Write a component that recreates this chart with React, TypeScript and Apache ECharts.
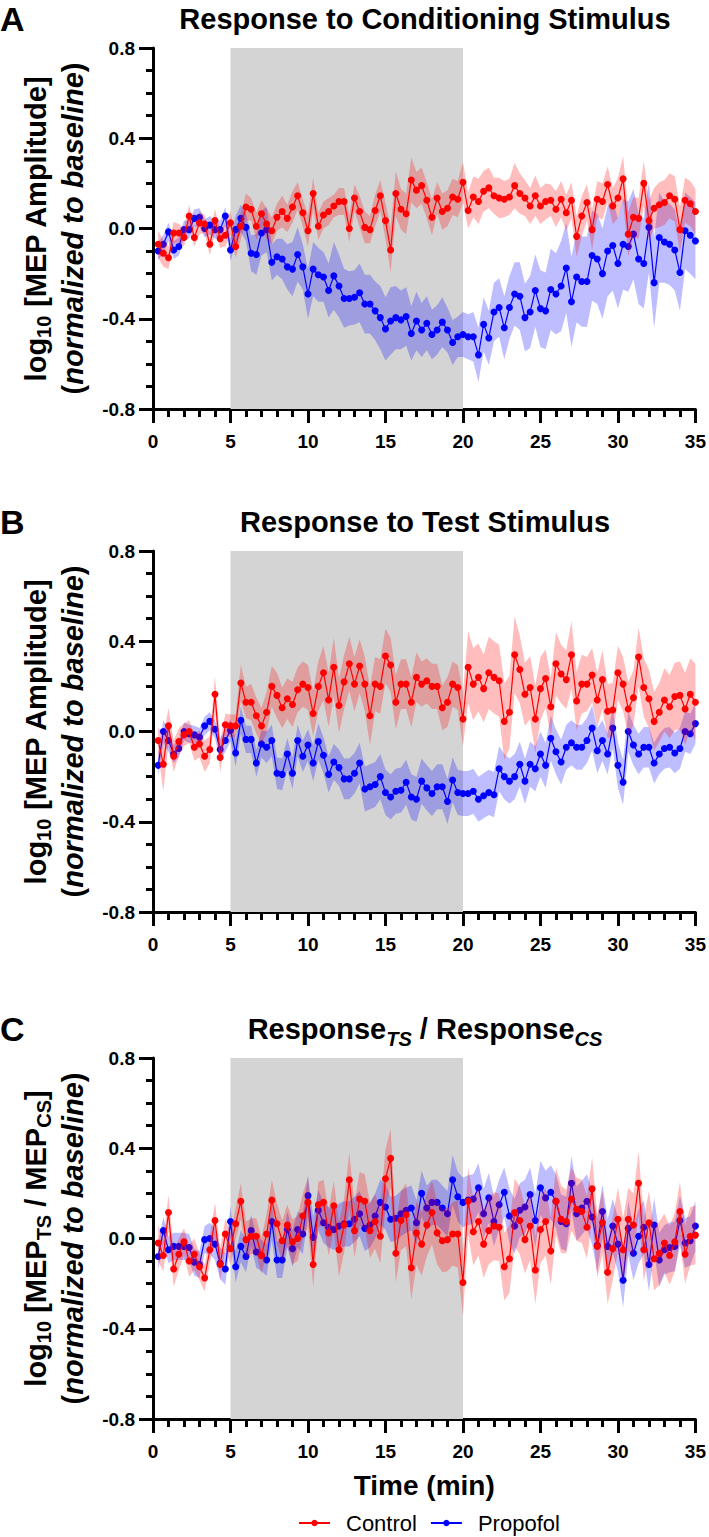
import React, { useEffect, useRef } from "react";
import * as echarts from "echarts";

const FONT = '"Liberation Sans", Arial, Helvetica, sans-serif';

// time step between successive measurements (minutes)
const STEP_MIN = 1 / 3;
const SHADE = [5, 20];
const X_TICKS = { min: 0, max: 35, interval: 5 };
const Y_TICKS = { min: -0.8, max: 0.8, interval: 0.4 };

const TITLES = ["Response to Conditioning Stimulus", "Response to Test Stimulus", "{b|Response}{s|TS}{b| / Response}{s|CS}"];
const LETTERS = ["A", "B", "C"];
const Y_NAMES = [
  "{b|log}{s|10}{b| [MEP Amplitude]}\n{b|(}{i|normalized to baseline}{b|)}",
  "{b|log}{s|10}{b| [MEP Amplitude]}\n{b|(}{i|normalized to baseline}{b|)}",
  "{b|log}{s|10}{b| [MEP}{s|TS}{b| / MEP}{s|CS}{b|]}\n{b|(}{i|normalized to baseline}{b|)}",
];
const SERIES_NAMES = ["Control", "Propofol"];

// Panel A: response to conditioning stimulus
const A_CONTROL = [-0.07,-0.11,-0.13,-0.02,-0.02,-0.04,0.055,-0.04,0.025,0.02,-0.07,0.035,-0.045,-0.03,0.025,-0.08,0.01,0.095,0.085,0.01,0.065,0.02,-0.01,0.05,0.075,0.045,0.095,0.145,0.07,-0.01,0.155,0.01,0.06,0.075,0.1,0.12,0.12,0.0,0.135,0.075,0.005,-0.005,0.08,0.145,0.035,-0.095,0.155,0.085,0.065,0.215,0.17,0.19,0.125,0.05,0.135,0.075,0.09,0.14,0.13,0.205,0.08,0.14,0.12,0.165,0.18,0.145,0.135,0.13,0.14,0.19,0.155,0.135,0.1,0.145,0.1,0.12,0.125,0.085,0.13,0.07,0.125,-0.035,0.055,0.115,-0.005,0.13,0.12,0.195,0.1,0.135,0.22,-0.025,0.05,0.045,0.2,0.035,0.09,0.105,0.115,0.145,0.13,-0.005,0.125,0.11,0.075];
const A_CONTROL_SEM = [0.06,0.06,0.05,0.05,0.04,0.04,0.05,0.04,0.05,0.04,0.05,0.05,0.04,0.05,0.05,0.05,0.06,0.06,0.05,0.06,0.06,0.07,0.06,0.06,0.07,0.06,0.07,0.06,0.06,0.07,0.07,0.06,0.06,0.06,0.05,0.06,0.06,0.06,0.06,0.07,0.07,0.06,0.07,0.07,0.08,0.1,0.1,0.09,0.09,0.1,0.08,0.08,0.08,0.08,0.07,0.08,0.08,0.08,0.08,0.09,0.08,0.09,0.1,0.09,0.09,0.08,0.09,0.08,0.08,0.1,0.09,0.08,0.08,0.09,0.08,0.08,0.07,0.08,0.08,0.08,0.08,0.09,0.09,0.08,0.09,0.08,0.08,0.08,0.08,0.09,0.1,0.1,0.09,0.09,0.1,0.09,0.09,0.1,0.1,0.1,0.1,0.1,0.1,0.1,0.1];
const A_PROPOFOL = [-0.1,-0.07,-0.015,-0.095,-0.08,-0.005,-0.005,0.045,0.05,0.0,0.015,-0.005,-0.005,0.055,-0.095,-0.005,0.045,0.005,-0.11,-0.115,-0.02,-0.005,-0.15,-0.125,-0.135,-0.17,-0.18,-0.115,-0.17,-0.29,-0.18,-0.205,-0.215,-0.275,-0.21,-0.255,-0.31,-0.31,-0.305,-0.285,-0.335,-0.335,-0.365,-0.395,-0.445,-0.41,-0.395,-0.405,-0.39,-0.465,-0.41,-0.45,-0.42,-0.47,-0.45,-0.415,-0.45,-0.505,-0.48,-0.47,-0.48,-0.48,-0.56,-0.425,-0.485,-0.37,-0.35,-0.44,-0.35,-0.29,-0.3,-0.395,-0.37,-0.275,-0.355,-0.365,-0.27,-0.29,-0.255,-0.175,-0.325,-0.215,-0.235,-0.235,-0.12,-0.135,-0.2,-0.1,-0.075,-0.155,-0.07,-0.08,-0.025,-0.135,-0.155,0.005,-0.24,-0.04,-0.06,-0.07,-0.095,-0.195,-0.01,-0.03,-0.055];
const A_PROPOFOL_SEM = [0.04,0.04,0.04,0.04,0.04,0.04,0.04,0.04,0.04,0.04,0.04,0.04,0.04,0.04,0.05,0.06,0.06,0.06,0.08,0.09,0.1,0.1,0.08,0.08,0.09,0.1,0.12,0.12,0.1,0.11,0.12,0.12,0.11,0.12,0.15,0.14,0.13,0.12,0.12,0.13,0.13,0.13,0.13,0.14,0.14,0.15,0.14,0.13,0.13,0.12,0.13,0.12,0.12,0.11,0.11,0.11,0.1,0.1,0.09,0.1,0.1,0.11,0.12,0.12,0.12,0.13,0.13,0.14,0.14,0.14,0.15,0.15,0.16,0.16,0.17,0.17,0.18,0.18,0.2,0.2,0.2,0.2,0.2,0.2,0.2,0.2,0.2,0.2,0.2,0.2,0.2,0.2,0.2,0.2,0.2,0.2,0.2,0.2,0.18,0.18,0.18,0.17,0.17,0.17,0.17];

// Panel B: response to test stimulus
const B_CONTROL = [-0.04,-0.145,0.025,-0.11,-0.045,-0.015,0.0,-0.07,-0.055,-0.11,-0.08,0.165,-0.115,0.03,0.025,0.025,0.215,0.13,0.13,0.07,0.025,0.085,0.2,0.16,0.105,0.145,0.12,0.185,0.21,0.195,0.08,0.2,0.26,0.14,0.285,0.115,0.22,0.3,0.21,0.29,0.21,0.07,0.21,0.2,0.335,0.295,0.13,0.21,0.21,0.13,0.24,0.21,0.225,0.2,0.2,0.105,0.13,0.21,0.195,0.055,0.285,0.21,0.24,0.19,0.26,0.24,0.225,0.045,0.085,0.34,0.275,0.165,0.195,0.055,0.19,0.235,0.11,0.3,0.255,0.23,0.34,0.135,0.21,0.21,0.25,0.14,0.23,0.09,0.095,0.26,0.21,0.1,0.15,0.33,0.195,0.145,0.045,0.085,0.14,0.11,0.155,0.16,0.1,0.165,0.13];
const B_CONTROL_SEM = [0.06,0.12,0.08,0.07,0.06,0.05,0.05,0.06,0.06,0.07,0.06,0.08,0.07,0.05,0.05,0.05,0.08,0.07,0.08,0.08,0.08,0.09,0.09,0.1,0.09,0.09,0.1,0.1,0.1,0.1,0.1,0.11,0.12,0.12,0.13,0.12,0.12,0.12,0.12,0.12,0.12,0.13,0.12,0.12,0.12,0.12,0.12,0.11,0.11,0.11,0.11,0.1,0.1,0.1,0.1,0.1,0.11,0.1,0.1,0.12,0.16,0.16,0.15,0.15,0.16,0.16,0.16,0.17,0.16,0.17,0.15,0.14,0.14,0.15,0.14,0.13,0.13,0.14,0.13,0.13,0.15,0.13,0.13,0.12,0.12,0.12,0.13,0.12,0.12,0.12,0.12,0.12,0.12,0.13,0.13,0.13,0.13,0.13,0.14,0.14,0.15,0.15,0.16,0.16,0.17];
const B_PROPOFOL = [-0.15,0.0,-0.04,-0.1,-0.075,0.0,-0.01,-0.015,-0.025,0.025,0.045,0.01,-0.08,-0.04,0.005,-0.095,0.05,-0.035,-0.035,-0.14,-0.055,-0.07,-0.04,-0.185,-0.19,-0.1,-0.185,-0.04,-0.11,-0.06,-0.14,-0.045,-0.105,-0.19,-0.135,-0.16,-0.21,-0.21,-0.185,-0.14,-0.255,-0.245,-0.235,-0.2,-0.27,-0.29,-0.265,-0.26,-0.225,-0.29,-0.3,-0.22,-0.25,-0.275,-0.245,-0.245,-0.31,-0.215,-0.27,-0.275,-0.275,-0.265,-0.3,-0.285,-0.27,-0.28,-0.165,-0.2,-0.22,-0.2,-0.145,-0.22,-0.145,-0.165,-0.1,-0.15,-0.03,-0.09,-0.135,-0.07,-0.05,-0.07,-0.07,-0.04,0.015,-0.085,-0.04,-0.1,0.015,-0.15,-0.225,0.0,-0.06,-0.1,-0.07,-0.07,-0.14,-0.1,-0.075,-0.07,-0.095,-0.075,0.0,-0.01,0.035];
const B_PROPOFOL_SEM = [0.05,0.05,0.05,0.04,0.04,0.04,0.04,0.04,0.04,0.04,0.04,0.04,0.05,0.05,0.05,0.06,0.06,0.06,0.06,0.06,0.06,0.07,0.07,0.07,0.07,0.07,0.07,0.07,0.07,0.07,0.08,0.08,0.08,0.08,0.08,0.08,0.09,0.09,0.09,0.09,0.1,0.1,0.1,0.1,0.1,0.1,0.1,0.1,0.1,0.1,0.1,0.1,0.1,0.1,0.1,0.1,0.1,0.1,0.1,0.1,0.1,0.1,0.1,0.1,0.1,0.1,0.1,0.1,0.1,0.1,0.1,0.1,0.1,0.1,0.1,0.1,0.1,0.1,0.1,0.1,0.1,0.1,0.1,0.1,0.1,0.1,0.09,0.09,0.09,0.1,0.1,0.09,0.09,0.09,0.09,0.09,0.09,0.09,0.09,0.09,0.09,0.09,0.09,0.09,0.09];

// Panel C: TS / CS ratio
const C_CONTROL = [-0.02,-0.075,0.115,-0.135,-0.07,-0.015,-0.1,-0.07,-0.125,-0.175,-0.05,0.08,-0.115,0.02,-0.045,0.065,0.165,-0.005,0.01,0.01,-0.075,0.02,0.17,0.065,-0.01,0.06,-0.015,0.0,0.1,0.16,-0.115,0.15,0.16,0.025,0.145,-0.05,0.06,0.26,0.035,0.175,0.165,0.035,0.075,0.01,0.265,0.355,-0.065,0.08,0.105,-0.13,0.025,-0.025,0.06,0.115,0.025,-0.01,-0.005,0.02,0.02,-0.195,0.165,0.03,0.075,-0.025,0.035,0.055,0.05,-0.125,-0.09,0.115,0.08,-0.005,0.055,-0.14,0.04,0.075,-0.055,0.165,0.085,0.075,0.175,0.13,0.12,0.05,0.22,-0.035,0.07,-0.15,-0.045,0.085,-0.05,0.085,0.06,0.245,-0.05,0.07,-0.09,-0.065,-0.02,-0.075,-0.015,0.12,-0.07,0.01,0.015];
const C_CONTROL_SEM = [0.08,0.07,0.08,0.08,0.07,0.06,0.07,0.07,0.06,0.06,0.06,0.08,0.07,0.07,0.07,0.07,0.08,0.08,0.08,0.08,0.08,0.09,0.09,0.09,0.09,0.09,0.1,0.1,0.1,0.11,0.1,0.1,0.1,0.1,0.11,0.12,0.12,0.12,0.12,0.12,0.12,0.12,0.12,0.12,0.13,0.13,0.13,0.13,0.14,0.14,0.14,0.14,0.14,0.14,0.14,0.14,0.14,0.14,0.15,0.15,0.15,0.15,0.15,0.15,0.15,0.15,0.15,0.15,0.15,0.15,0.15,0.15,0.15,0.15,0.15,0.15,0.15,0.15,0.15,0.14,0.14,0.14,0.14,0.14,0.14,0.14,0.14,0.14,0.14,0.14,0.14,0.14,0.14,0.14,0.14,0.14,0.14,0.14,0.13,0.13,0.13,0.13,0.13,0.13,0.13];
const C_PROPOFOL = [-0.08,0.035,-0.05,-0.035,-0.035,-0.035,-0.04,-0.105,-0.115,-0.005,0.0,-0.025,-0.11,-0.135,0.075,-0.125,-0.035,-0.08,0.035,-0.06,-0.075,-0.095,0.075,-0.095,-0.095,0.04,-0.045,0.04,0.02,0.19,0.005,0.125,0.07,0.05,0.04,0.055,0.065,0.065,0.085,0.11,0.045,0.06,0.1,0.16,0.14,0.085,0.09,0.11,0.125,0.135,0.07,0.2,0.135,0.16,0.16,0.135,0.11,0.26,0.185,0.16,0.17,0.175,0.225,0.11,0.18,0.075,0.15,0.205,0.1,0.055,0.125,0.14,0.195,0.08,0.225,0.18,0.205,0.165,0.075,0.065,0.245,0.11,0.135,0.165,0.095,-0.03,0.12,-0.035,0.055,-0.025,-0.185,0.045,-0.065,0.01,0.05,-0.115,0.06,-0.095,-0.05,-0.04,-0.035,0.08,-0.02,-0.01,0.055];
const C_PROPOFOL_SEM = [0.06,0.06,0.06,0.06,0.06,0.06,0.06,0.06,0.06,0.06,0.07,0.07,0.07,0.07,0.07,0.07,0.07,0.07,0.07,0.07,0.07,0.07,0.08,0.08,0.08,0.08,0.08,0.08,0.09,0.09,0.09,0.09,0.09,0.09,0.09,0.1,0.1,0.1,0.1,0.1,0.1,0.1,0.1,0.1,0.1,0.1,0.1,0.1,0.1,0.1,0.1,0.1,0.1,0.1,0.1,0.1,0.1,0.11,0.11,0.11,0.11,0.11,0.11,0.11,0.11,0.11,0.11,0.11,0.12,0.12,0.12,0.12,0.12,0.12,0.12,0.12,0.12,0.12,0.12,0.12,0.12,0.12,0.12,0.12,0.12,0.12,0.12,0.12,0.12,0.12,0.12,0.12,0.12,0.12,0.12,0.12,0.12,0.12,0.11,0.11,0.11,0.11,0.11,0.11,0.11];

const PANELS = [
  { control: A_CONTROL, controlSem: A_CONTROL_SEM, propofol: A_PROPOFOL, propofolSem: A_PROPOFOL_SEM },
  { control: B_CONTROL, controlSem: B_CONTROL_SEM, propofol: B_PROPOFOL, propofolSem: B_PROPOFOL_SEM },
  { control: C_CONTROL, controlSem: C_CONTROL_SEM, propofol: C_PROPOFOL, propofolSem: C_PROPOFOL_SEM },
];

const RED = "#ff0000";
const BLUE = "#0000ff";
const RED_BAND = "rgba(255,0,0,0.26)";
const BLUE_BAND = "rgba(0,0,255,0.26)";

const GRID_TOPS = [48, 551, 1058];
const GRID_LEFT = 153;
const GRID_W = 544;
const GRID_H = 361;

function times(n: number) {
  const out: number[] = [];
  for (let i = 1; i <= n; i++) out.push(Math.round(i * STEP_MIN * 10000) / 10000);
  return out;
}

function groupSeries(k: number, name: string, mean: number[], sem: number[], color: string, band: string, z: number) {
  const t = times(mean.length);
  const rows = mean.map((m, i) => [t[i], m - sem[i], m + sem[i]]);
  return [
    {
      name: name + " band",
      type: "custom",
      coordinateSystem: "cartesian2d",
      xAxisIndex: k,
      yAxisIndex: k,
      data: rows,
      encode: { x: 0, y: [1, 2] },
      silent: true,
      z,
      renderItem: (params: any, api: any) => {
        if (params.dataIndex !== 0) return null;
        const upper = rows.map((r) => api.coord([r[0], r[2]]));
        const lower = rows.map((r) => api.coord([r[0], r[1]])).reverse();
        return {
          type: "polygon",
          shape: { points: upper.concat(lower) },
          style: { fill: band, stroke: "none" },
        };
      },
    },
    {
      name,
      type: "line",
      xAxisIndex: k,
      yAxisIndex: k,
      data: mean.map((m, i) => [t[i], m]),
      symbol: "circle",
      symbolSize: 7,
      showAllSymbol: true,
      itemStyle: { color },
      lineStyle: { color, width: 1.2 },
      silent: true,
      z: z + 1,
    },
  ];
}

function buildOption() {
  const grid = GRID_TOPS.map((top) => ({ left: GRID_LEFT, top, width: GRID_W, height: GRID_H }));
  const tickLabel = { fontFamily: FONT, fontSize: 19, fontWeight: "bold", color: "#000" };
  const xAxis = GRID_TOPS.map((_, k) => ({
    gridIndex: k,
    type: "value",
    min: X_TICKS.min,
    max: X_TICKS.max,
    interval: X_TICKS.interval,
    axisLine: { onZero: false, lineStyle: { color: "#000", width: 3 } },
    axisTick: { length: 14, lineStyle: { color: "#000", width: 3 } },
    minorTick: { show: true, splitNumber: 5, length: 8, lineStyle: { color: "#000", width: 3 } },
    splitLine: { show: false },
    minorSplitLine: { show: false },
    axisLabel: { ...tickLabel, margin: 23 },
    name: k === 2 ? "Time (min)" : "",
    nameLocation: "middle",
    nameGap: 52,
    nameTextStyle: { fontFamily: FONT, fontSize: 28, fontWeight: "bold", color: "#000" },
  }));
  const yAxis = GRID_TOPS.map((_, k) => ({
    gridIndex: k,
    type: "value",
    min: Y_TICKS.min,
    max: Y_TICKS.max,
    interval: Y_TICKS.interval,
    axisLine: { onZero: false, lineStyle: { color: "#000", width: 3 } },
    axisTick: { length: 14, lineStyle: { color: "#000", width: 3 } },
    minorTick: { show: true, splitNumber: 4, length: 7, lineStyle: { color: "#000", width: 3 } },
    splitLine: { show: false },
    minorSplitLine: { show: false },
    axisLabel: { ...tickLabel, margin: 18, formatter: (v: number) => v.toFixed(1) },
    name: Y_NAMES[k],
    nameLocation: "middle",
    nameRotate: 90,
    nameGap: 60,
    nameTextStyle: {
      color: "#000",
      fontFamily: FONT,
      fontSize: 29,
      fontWeight: "bold",
      lineHeight: 37,
      rich: {
        b: { fontFamily: FONT, fontSize: 29, fontWeight: "bold", color: "#000", lineHeight: 37 },
        i: { fontFamily: FONT, fontSize: 29, fontWeight: "bold", fontStyle: "italic", color: "#000", lineHeight: 37 },
        s: { fontFamily: FONT, fontSize: 20, fontWeight: "bold", color: "#000", lineHeight: 20, verticalAlign: "bottom" },
      },
    },
  }));

  const series: any[] = [];
  PANELS.forEach((p, k) => {
    series.push({
      name: "shade",
      type: "line",
      xAxisIndex: k,
      yAxisIndex: k,
      data: [],
      silent: true,
      markArea: {
        silent: true,
        itemStyle: { color: "#d4d4d4" },
        data: [[{ xAxis: SHADE[0] }, { xAxis: SHADE[1] }]],
      },
    });
    series.push(...groupSeries(k, SERIES_NAMES[1], p.propofol, p.propofolSem, BLUE, BLUE_BAND, 2));
    series.push(...groupSeries(k, SERIES_NAMES[0], p.control, p.controlSem, RED, RED_BAND, 4));
  });

  const graphic: any[] = [];
  GRID_TOPS.forEach((top, k) => {
    const cy = top - 29;
    graphic.push({
      type: "text",
      left: 0,
      top: cy - 17,
      style: { text: LETTERS[k], fontFamily: FONT, fontSize: 34, fontWeight: "bold", fill: "#000" },
    });
    graphic.push({
      type: "text",
      x: GRID_LEFT + GRID_W / 2,
      y: cy,
      style: {
        text: TITLES[k],
        fontFamily: FONT,
        fontSize: 29,
        fontWeight: "bold",
        fill: "#000",
        align: "center",
        verticalAlign: "middle",
        rich: {
          b: { fontFamily: FONT, fontSize: 29, fontWeight: "bold", fill: "#000", lineHeight: 40 },
          s: { fontFamily: FONT, fontSize: 20, fontWeight: "bold", fontStyle: "italic", fill: "#000", lineHeight: 22, verticalAlign: "bottom" },
        },
      },
    });
  });

  return {
    animation: false,
    backgroundColor: "#fff",
    grid,
    xAxis,
    yAxis,
    series,
    graphic,
    legend: {
      data: SERIES_NAMES,
      left: 293,
      top: 1507,
      itemWidth: 31,
      itemHeight: 8,
      itemGap: 13,
      selectedMode: false,
      textStyle: { fontFamily: FONT, fontSize: 22, color: "#000", padding: [0, 0, 0, 11] },
    },
  };
}

export default function App() {
  const ref = useRef<HTMLDivElement>(null);
  useEffect(() => {
    const chart = echarts.init(ref.current as HTMLDivElement, null, { renderer: "svg" });
    chart.setOption(buildOption() as any);
    return () => chart.dispose();
  }, []);
  return (
    <div
      ref={ref}
      style={{ position: "absolute", left: 0, top: 0, width: 709, height: 1537, background: "#fff" }}
    />
  );
}
